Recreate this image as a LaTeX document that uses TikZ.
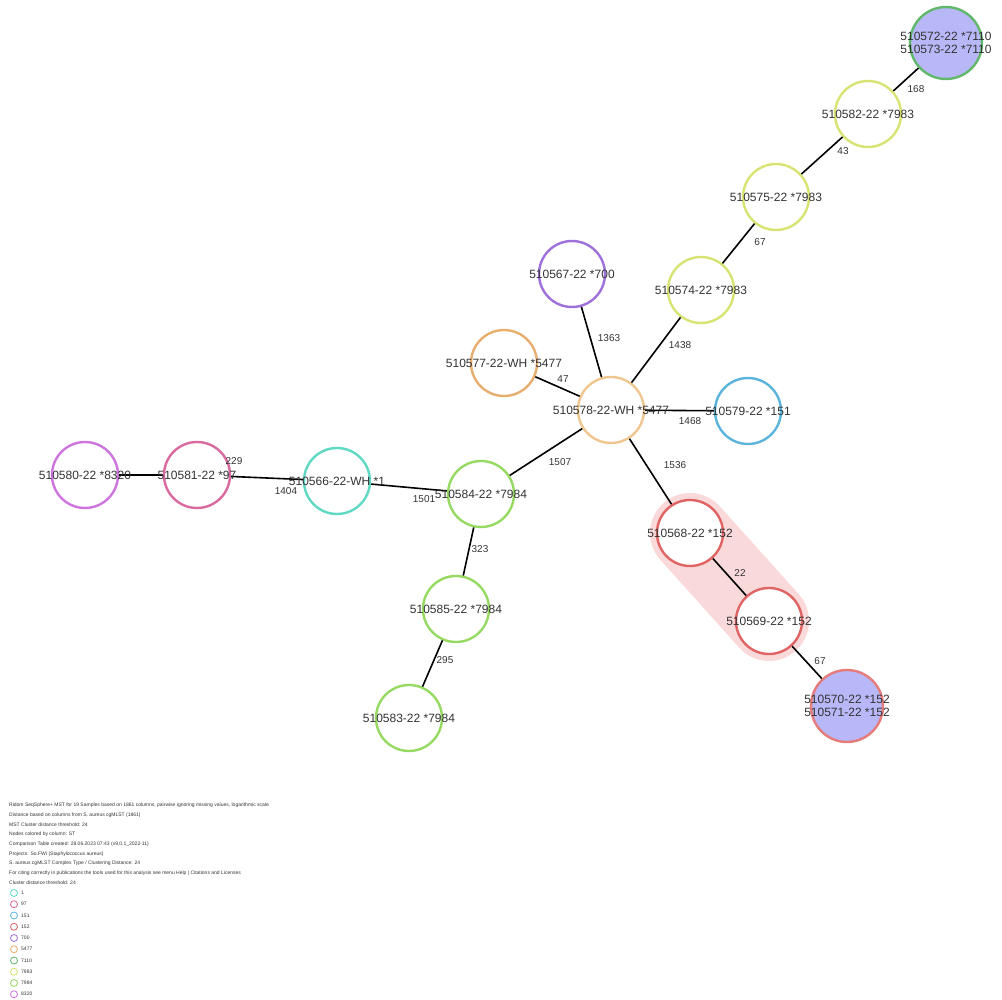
\documentclass[tikz,border=0pt]{standalone}
\usepackage{fontspec}
\setmainfont{Liberation Sans}
\begin{document}
\begin{tikzpicture}[x=1pt,y=-1pt,
  nd/.style={circle, minimum size=66pt, inner sep=0pt, line width=2.4pt, fill=white},
  ndd/.style={circle, minimum size=72pt, inner sep=0pt, line width=2.4pt, fill=lav},
  nodetext/.style={font=\fontsize{12}{13}\selectfont, text=txt, align=center, inner sep=0pt},
  edge/.style={line width=1.6pt, black},
  elab/.style={font=\fontsize{10}{11}\selectfont, text=txt, inner sep=0pt},
  legtext/.style={font=\fontsize{5}{6}\selectfont, text=txt, anchor=west, inner sep=0pt},
  legdot/.style={circle, minimum size=7pt, inner sep=0pt, line width=0.8pt, fill=white}
]
\definecolor{txt}{HTML}{333333}
\definecolor{lav}{HTML}{B8B8F8}
\definecolor{c1}{HTML}{5FD9C4}
\definecolor{c97}{HTML}{D96A9F}
\definecolor{c151}{HTML}{5AB4DC}
\definecolor{c152}{HTML}{E06464}
\definecolor{c700}{HTML}{9E70DC}
\definecolor{c5477}{HTML}{E8AE6E}
\definecolor{c5477b}{HTML}{F0C690}
\definecolor{c7110}{HTML}{62B86A}
\definecolor{c7983}{HTML}{D8E472}
\definecolor{c7984}{HTML}{96DA62}
\definecolor{c8320}{HTML}{CE74DE}
\definecolor{band}{HTML}{F6C4C4}

\useasboundingbox (0,0) rectangle (1002,1000);

% centres
\coordinate (p7110) at (946,43);
\coordinate (p582) at (868,114);
\coordinate (p575) at (776,197);
\coordinate (p574) at (701,290);
\coordinate (p567) at (572,274);
\coordinate (p577) at (504,363);
\coordinate (p578) at (611,410);
\coordinate (p579) at (748,411);
\coordinate (p580) at (85,475);
\coordinate (p581) at (197,475);
\coordinate (p566) at (337,481);
\coordinate (p584) at (481,494);
\coordinate (p585) at (456,609);
\coordinate (p583) at (409,718);
\coordinate (p568) at (690,533);
\coordinate (p569) at (769,621);
\coordinate (p7152) at (847,706);

% cluster band
\draw[band, opacity=0.65, line width=80pt, line cap=round] (p568) -- (p569);

% nodes
\node[ndd, draw=c7110] (n7110) at (p7110) {};
\node[nd, draw=c7983] (n582) at (p582) {};
\node[nd, draw=c7983] (n575) at (p575) {};
\node[nd, draw=c7983] (n574) at (p574) {};
\node[nd, draw=c700] (n567) at (p567) {};
\node[nd, draw=c5477] (n577) at (p577) {};
\node[nd, draw=c5477b] (n578) at (p578) {};
\node[nd, draw=c151] (n579) at (p579) {};
\node[nd, draw=c8320] (n580) at (p580) {};
\node[nd, draw=c97] (n581) at (p581) {};
\node[nd, draw=c1] (n566) at (p566) {};
\node[nd, draw=c7984] (n584) at (p584) {};
\node[nd, draw=c7984] (n585) at (p585) {};
\node[nd, draw=c7984] (n583) at (p583) {};
\node[nd, draw=c152] (n568) at (p568) {};
\node[nd, draw=c152] (n569) at (p569) {};
\node[ndd, draw=c152!85] (n7152) at (p7152) {};

% edges
\draw[edge] (n7110) -- (n582);
\draw[edge] (n582) -- (n575);
\draw[edge] (n575) -- (n574);
\draw[edge] (n574) -- (n578);
\draw[edge] (n567) -- (n578);
\draw[edge] (n577) -- (n578);
\draw[edge] (n578) -- (n579);
\draw[edge] (n578) -- (n584);
\draw[edge] (n578) -- (n568);
\draw[edge] (n568) -- (n569);
\draw[edge] (n569) -- (n7152);
\draw[edge] (n580) -- (n581);
\draw[edge] (n581) -- (n566);
\draw[edge] (n566) -- (n584);
\draw[edge] (n584) -- (n585);
\draw[edge] (n585) -- (n583);

% node texts
\node[nodetext] (t7110) at (n7110) {510572-22 *7110\\510573-22 *7110};
\node[nodetext] (t582) at (n582) {510582-22 *7983};
\node[nodetext] (t575) at (n575) {510575-22 *7983};
\node[nodetext] (t574) at (n574) {510574-22 *7983};
\node[nodetext] (t567) at (n567) {510567-22 *700};
\node[nodetext] (t577) at (n577) {510577-22-WH *5477};
\node[nodetext] (t578) at (n578) {510578-22-WH *5477};
\node[nodetext] (t579) at (n579) {510579-22 *151};
\node[nodetext] (t580) at (n580) {510580-22 *8320};
\node[nodetext] (t581) at (n581) {510581-22 *97};
\node[nodetext] (t566) at (n566) {510566-22-WH *1};
\node[nodetext] (t584) at (n584) {510584-22 *7984};
\node[nodetext] (t585) at (n585) {510585-22 *7984};
\node[nodetext] (t583) at (n583) {510583-22 *7984};
\node[nodetext] (t568) at (n568) {510568-22 *152};
\node[nodetext] (t569) at (n569) {510569-22 *152};
\node[nodetext] (t7152) at (n7152) {510570-22 *152\\510571-22 *152};

% edge labels
\node[elab] (e168) at (916,89) {168};
\node[elab] (e43) at (843,151) {43};
\node[elab] (e67a) at (760,242) {67};
\node[elab] (e1438) at (680,345) {1438};
\node[elab] (e1363) at (609,338) {1363};
\node[elab] (e47) at (563,379) {47};
\node[elab] (e1468) at (690,421) {1468};
\node[elab] (e1507) at (560,462) {1507};
\node[elab] (e1536) at (675,465) {1536};
\node[elab] (e229) at (234,461) {229};
\node[elab] (e1404) at (286,491) {1404};
\node[elab] (e1501) at (424,499) {1501};
\node[elab] (e323) at (480,549) {323};
\node[elab] (e295) at (445,660) {295};
\node[elab] (e22) at (740,573) {22};
\node[elab] (e67b) at (820,661) {67};

% legend text
\node[legtext] (l1) at (9,805) {Ridom SeqSphere+ MST for 19 Samples based on 1861 columns, pairwise ignoring missing values, logarithmic scale};
\node[legtext] (l2) at (9,814.75) {Distance based on columns from S. aureus cgMLST (1861)};
\node[legtext] (l3) at (9,824.5) {MST Cluster distance threshold: 24};
\node[legtext] (l4) at (9,834.25) {Nodes colored by column: ST};
\node[legtext] (l5) at (9,844) {Comparison Table created: 28.06.2023 07:43 (v9.0.1\_2022-11)};
\node[legtext] (l6) at (9,853.75) {Projects: So.FWI (Staphylococcus aureus)};
\node[legtext] (l7) at (9,863.5) {S. aureus cgMLST Complex Type / Clustering Distance: 24};
\node[legtext] (l8) at (9,873.25) {For citing correctly in publications the tools used for this analysis see menu Help | Citations and Licenses};
\node[legtext] (l9) at (9,883) {Cluster distance threshold: 24};

% legend items
\foreach \i/\c/\t in {0/c1/1, 1/c97/97, 2/c151/151, 3/c152/152, 4/c700/700, 5/c5477/5477, 6/c7110/7110, 7/c7983/7983, 8/c7984/7984, 9/c8320/8320}{
  \node[legdot, draw=\c] (ld\i) at (14,893+11.25*\i) {};
  \node[legtext] (lt\i) at (21,893+11.25*\i) {\t};
}
\end{tikzpicture}
\end{document}
